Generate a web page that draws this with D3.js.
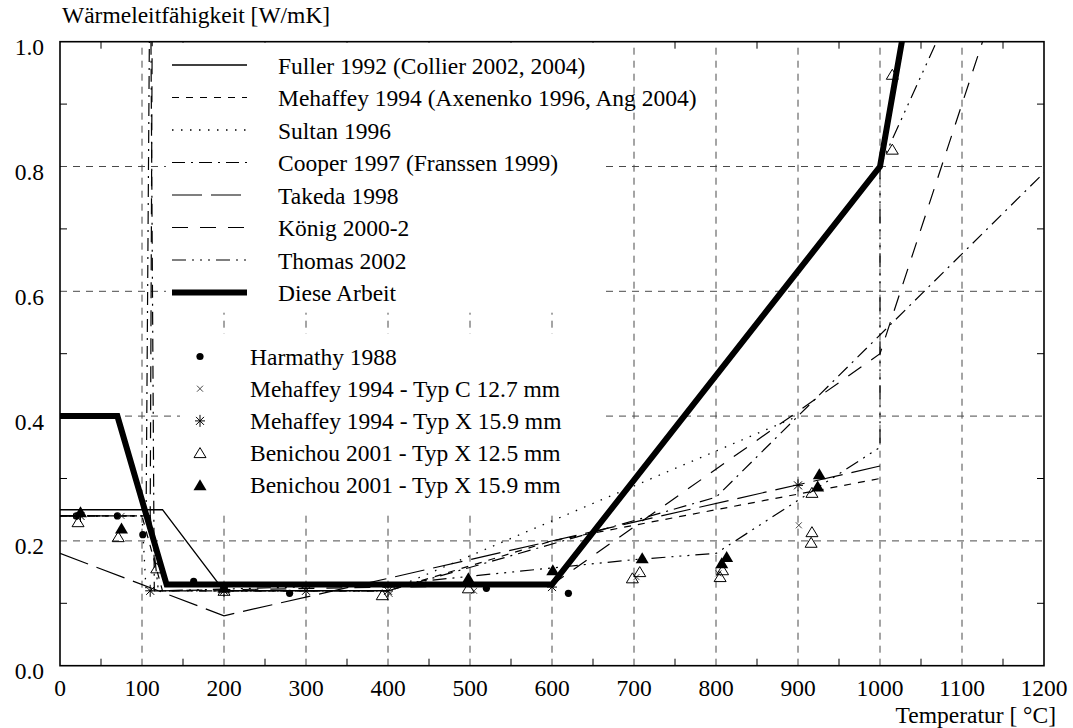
<!DOCTYPE html>
<html>
<head>
<meta charset="utf-8">
<script src="https://cdn.jsdelivr.net/npm/d3@7"></script>
<style>
  html, body { margin: 0; padding: 0; background: #fff; }
  svg { display: block; }
  text { font-family: "Liberation Serif", "Times New Roman", serif; fill: #000; }
</style>
</head>
<body>
<svg id="chart" width="1073" height="728"></svg>
<script>
// Thermal conductivity models of gypsum board [W/mK] vs temperature [°C]
const fuller   = [[0,0.25],[125,0.25],[200,0.12],[400,0.12]];
const mehaffey = [[0,0.24],[100,0.24],[125,0.12],[400,0.12],[600,0.20],[1000,0.30]];
const sultan   = [[0,0.24],[100,0.24],[105,0.12],[400,0.12],[900,0.40]];
const cooper   = [[0,0.24],[105,0.24],[110,1.20],[115,0.12],[400,0.12],[800,0.27],[1200,0.79]];
const takeda   = [[0,0.18],[200,0.08],[1000,0.32]];
const koenig   = [[0,0.24],[110,0.24],[113,1.20]];
const koenig2  = [[120,0.12],[600,0.13],[1000,0.50],[1200,1.30]];
const thomas   = [[0,0.24],[110,0.24],[120,0.12],[400,0.13],[700,0.17],[800,0.18],[1000,0.35],[1000,0.80],[1200,1.38]];
const diese    = [[0,0.40],[70,0.40],[130,0.13],[600,0.13],[1000,0.80],[1100,1.55]];

// Measured values
const harmathy  = [[20,0.24],[70,0.24],[101,0.21],[163,0.135],[280,0.116],[520,0.124],[620,0.116]];
const mehC      = [[20,0.24],[75,0.24],[200,0.12],[402,0.115],[505,0.12],[703,0.142],[803,0.148],[901,0.225]];
const mehX      = [[25,0.24],[110,0.12],[200,0.12],[300,0.12],[400,0.12],[600,0.126],[900,0.289]];
const benOpen   = [[22,0.23],[71,0.206],[118,0.156],[200,0.12],[393,0.113],[498,0.124],[698,0.14],[707,0.15],[805,0.142],[808,0.153],[916,0.197],[917,0.214],[917,0.277],[1015,0.827],[1015,0.947]];
const benFilled = [[25,0.246],[75,0.22],[200,0.125],[498,0.14],[601,0.153],[710,0.172],[807,0.164],[813,0.174],[924,0.287],[926,0.307]];

const xTicks = [0,100,200,300,400,500,600,700,800,900,1000,1100,1200];
const yTicks = [0.0,0.2,0.4,0.6,0.8,1.0];

const lineSeries = [
  {name:"Fuller 1992 (Collier 2002, 2004)", data:[fuller], dash:null, w:1.4},
  {name:"Mehaffey 1994 (Axenenko 1996, Ang 2004)", data:[mehaffey], dash:"7,7", w:1.2},
  {name:"Sultan 1996", data:[sultan], dash:"1.5,7.5", w:1.3},
  {name:"Cooper 1997 (Franssen 1999)", data:[cooper], dash:"13,6,2,6", w:1.2},
  {name:"Takeda 1998", data:[takeda], dash:"30,9", w:1.2},
  {name:"König 2000-2", data:[koenig, koenig2], dash:"16,12", w:1.2},
  {name:"Thomas 2002", data:[thomas], dash:"14,6,2,6,2,6,2,6", w:1.2},
  {name:"Diese Arbeit", data:[diese], dash:null, w:6}
];

const pointSeries = [
  {name:"Harmathy 1988", data:harmathy, kind:"dot"},
  {name:"Mehaffey 1994 - Typ C 12.7 mm", data:mehC, kind:"x"},
  {name:"Mehaffey 1994 - Typ X 15.9 mm", data:mehX, kind:"star"},
  {name:"Benichou 2001 - Typ X 12.5 mm", data:benOpen, kind:"tri"},
  {name:"Benichou 2001 - Typ X 15.9 mm", data:benFilled, kind:"trifill"}
];

(function draw() {
  const svg = d3.select("#chart");
  const pl = 60, pr = 1044, pt = 41.7, pb = 665.7;
  const x = d3.scaleLinear().domain([0,1200]).range([pl,pr]);
  const y = d3.scaleLinear().domain([0,1]).range([pb,pt]);
  const fs = 23.5;

  svg.append("rect").attr("width",1073).attr("height",728).attr("fill","#fff");

  // grid
  const grid = svg.append("g").attr("stroke","#4a4a4a").attr("stroke-width",1).attr("stroke-dasharray","7,6");
  grid.selectAll("line.gx").data(xTicks.slice(1,-1)).join("line").attr("class","gx")
    .attr("x1",d=>x(d)).attr("x2",d=>x(d)).attr("y1",pb).attr("y2",pt);
  grid.selectAll("line.gy").data(yTicks.slice(1,-1)).join("line").attr("class","gy")
    .attr("y1",d=>y(d)).attr("y2",d=>y(d)).attr("x1",pl).attr("x2",pr);

  // minor ticks inside the frame
  const minorX = d3.range(50,1200,100);
  const minorY = [0.1,0.3,0.5,0.7,0.9];
  const ticks = svg.append("g").attr("stroke","#000").attr("stroke-width",1);
  minorX.forEach(v => {
    ticks.append("line").attr("x1",x(v)).attr("x2",x(v)).attr("y1",pb).attr("y2",pb-7);
    ticks.append("line").attr("x1",x(v)).attr("x2",x(v)).attr("y1",pt).attr("y2",pt+7);
  });
  minorY.forEach(v => {
    ticks.append("line").attr("y1",y(v)).attr("y2",y(v)).attr("x1",pl).attr("x2",pl+7);
    ticks.append("line").attr("y1",y(v)).attr("y2",y(v)).attr("x1",pr).attr("x2",pr-7);
  });

  // legend backgrounds
  svg.append("rect").attr("x",166).attr("y",pt+1).attr("width",434).attr("height",270).attr("fill","#fff");
  svg.append("rect").attr("x",180).attr("y",334).attr("width",425).attr("height",178).attr("fill","#fff");

  svg.append("clipPath").attr("id","plot").append("rect")
    .attr("x",pl).attr("y",pt).attr("width",pr-pl).attr("height",pb-pt);
  const plot = svg.append("g").attr("clip-path","url(#plot)");
  const line = d3.line().x(d=>x(d[0])).y(d=>y(d[1]));

  lineSeries.forEach(s => {
    s.data.forEach(seg => {
      plot.append("path").attr("d",line(seg)).attr("fill","none")
        .attr("stroke","#000").attr("stroke-width",s.w)
        .attr("stroke-dasharray",s.dash);
    });
  });

  function marker(g, kind, cx, cy) {
    if (kind==="dot") g.append("circle").attr("cx",cx).attr("cy",cy).attr("r",3.6).attr("fill","#000");
    else if (kind==="x") g.append("path").attr("d",`M${cx-3},${cy-3}L${cx+3},${cy+3}M${cx-3},${cy+3}L${cx+3},${cy-3}`).attr("stroke","#333").attr("stroke-width",0.9);
    else if (kind==="star") g.append("path").attr("d",`M${cx-5},${cy}L${cx+5},${cy}M${cx},${cy-6}L${cx},${cy+6}M${cx-4},${cy-4}L${cx+4},${cy+4}M${cx-4},${cy+4}L${cx+4},${cy-4}`).attr("stroke","#000").attr("stroke-width",1);
    else if (kind==="tri") g.append("path").attr("d",`M${cx},${cy-5.5}L${cx+6},${cy+4.5}L${cx-6},${cy+4.5}Z`).attr("fill","none").attr("stroke","#000").attr("stroke-width",1);
    else if (kind==="trifill") g.append("path").attr("d",`M${cx},${cy-6}L${cx+6.5},${cy+5}L${cx-6.5},${cy+5}Z`).attr("fill","#000");
  }

  pointSeries.forEach(s => {
    const g = plot.append("g");
    s.data.forEach(d => marker(g, s.kind, x(d[0]), y(d[1])));
  });

  // frame
  svg.append("rect").attr("x",pl).attr("y",pt).attr("width",pr-pl).attr("height",pb-pt)
    .attr("fill","none").attr("stroke","#000").attr("stroke-width",1.6);

  // tick labels
  svg.append("g").selectAll("text").data(xTicks).join("text")
    .attr("x",d=>x(d)).attr("y",pb+30.5).attr("text-anchor","middle").attr("font-size",fs)
    .text(d=>d);
  svg.append("g").selectAll("text").data(yTicks).join("text")
    .attr("x",pl-16).attr("y",d=>y(d)+13.5).attr("text-anchor","end").attr("font-size",fs)
    .text(d=>d.toFixed(1));

  svg.append("text").attr("x",pl+2).attr("y",23).attr("font-size",fs).text("Wärmeleitfähigkeit [W/mK]");
  svg.append("text").attr("x",1056).attr("y",723).attr("text-anchor","end").attr("font-size",fs).text("Temperatur [ °C]");

  // legend: models
  const lg = svg.append("g");
  lineSeries.forEach((s,i) => {
    const yy = 65 + i*32.5;
    lg.append("line").attr("x1",172).attr("x2",247).attr("y1",yy).attr("y2",yy)
      .attr("stroke","#000").attr("stroke-width",s.w).attr("stroke-dasharray",s.dash);
    lg.append("text").attr("x",278).attr("y",yy+8.5).attr("font-size",fs).text(s.name);
  });
  // legend: measurements
  pointSeries.forEach((s,i) => {
    const yy = 356.5 + i*32.2;
    marker(lg, s.kind, 200, yy);
    lg.append("text").attr("x",250).attr("y",yy+8).attr("font-size",fs).text(s.name);
  });
})();
</script>
</body>
</html>
